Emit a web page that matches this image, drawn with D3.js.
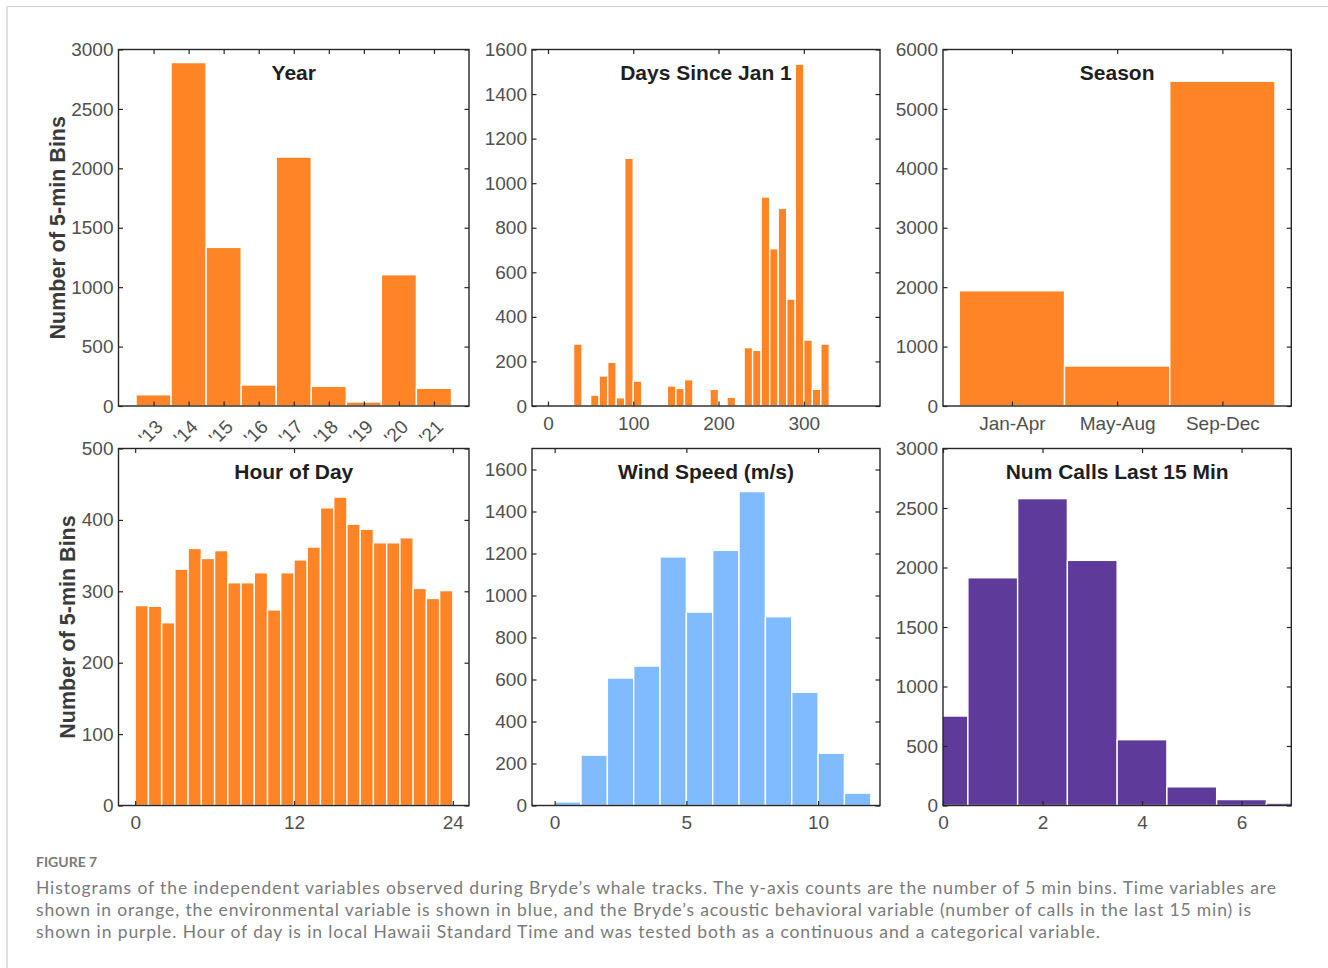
<!DOCTYPE html>
<html>
<head>
<meta charset="utf-8">
<script src="https://cdn.jsdelivr.net/npm/d3@7"></script>
<style>
  html, body { margin: 0; padding: 0; background: #fff; }
  svg { display: block; }
</style>
</head>
<body>
<svg id="fig" width="1328" height="968"></svg>
<script>
// ---- data ----
const yearCenters = [2013, 2014, 2015, 2016, 2017, 2018, 2019, 2020, 2021];
const yearLabels = ["'13", "'14", "'15", "'16", "'17", "'18", "'19", "'20", "'21"];
const yearCounts = [95, 2890, 1335, 177, 2095, 166, 34, 1105, 149];

const dayBinStarts = [30, 50, 60, 70, 80, 90, 100, 140, 150, 160, 190, 210,
                      230, 240, 250, 260, 270, 280, 290, 300, 310, 320];
const dayCounts = [278, 49, 135, 196, 37, 1112, 112, 90, 79, 118, 75, 39,
                   262, 250, 938, 706, 887, 480, 1534, 296, 75, 278];
const dayTicks = [0, 100, 200, 300];

const seasonLabels = ["Jan-Apr", "May-Aug", "Sep-Dec"];
const seasonCounts = [1940, 673, 5467];

const hourCounts = [280, 279, 256, 331, 360, 346, 357, 312, 312, 326, 274, 326,
                    344, 362, 417, 432, 394, 387, 368, 368, 375, 304, 290, 301];
const hourTicks = [0, 12, 24];

const windCounts = [17, 240, 607, 664, 1184, 921, 1215, 1495, 899, 539, 249, 59];
const windTicks = [0, 5, 10];

const callCounts = [752, 1914, 2579, 2060, 553, 157, 50, 20];
const callTicks = [0, 2, 4, 6];

const captionHead = "FIGURE 7";
const captionLines = [
  "Histograms of the independent variables observed during Bryde\u2019s whale tracks. The y-axis counts are the number of 5 min bins. Time variables are",
  "shown in orange, the environmental variable is shown in blue, and the Bryde\u2019s acoustic behavioral variable (number of calls in the last 15 min) is",
  "shown in purple. Hour of day is in local Hawaii Standard Time and was tested both as a continuous and a categorical variable."
];

// ---- styling ----
const ORANGE = "#ff8426", BLUE = "#80bbff", PURPLE = "#5e3a9a";
const FONT = "'Liberation Sans', Arial, Helvetica, sans-serif";
const AXIS = "#262626", TICKTXT = "#505050";
const cols = [[118.5, 469], [532, 880], [943, 1291.3]];
const rows = [[49.5, 406], [448.5, 805.5]];

const svg = d3.select("#fig");
svg.append("rect").attr("width", 1328).attr("height", 968).attr("fill", "#fff");

// page frame
svg.append("line").attr("x1", 7).attr("x2", 1328).attr("y1", 6.5).attr("y2", 6.5)
  .attr("stroke", "#cccccc").attr("stroke-width", 1.2);
svg.append("line").attr("x1", 7).attr("x2", 7).attr("y1", 6.5).attr("y2", 968)
  .attr("stroke", "#cccccc").attr("stroke-width", 1.2);

let clipId = 0;
function panel(cfg) {
  const [x0, x1] = cols[cfg.col];
  const [y0, y1] = rows[cfg.row];
  const x = d3.scaleLinear().domain(cfg.xDomain).range([x0, x1]);
  const y = d3.scaleLinear().domain(cfg.yDomain).range([y1, y0]);
  const g = svg.append("g");

  const cid = "clip" + (clipId++);
  g.append("clipPath").attr("id", cid).append("rect")
    .attr("x", x0).attr("y", y0).attr("width", x1 - x0).attr("height", y1 - y0);

  g.append("g").attr("clip-path", `url(#${cid})`)
    .selectAll("rect").data(cfg.bars).join("rect")
    .attr("x", d => x(d.x0))
    .attr("width", d => x(d.x1) - x(d.x0))
    .attr("y", d => y(d.v))
    .attr("height", d => y(0) - y(d.v))
    .attr("fill", cfg.color)
    .attr("stroke", "#fff").attr("stroke-width", 1.4);

  const tk = 4.5;
  const style = sel => {
    sel.select(".domain").remove();
    sel.selectAll(".tick line").attr("stroke", AXIS).attr("stroke-width", 1.2);
    sel.selectAll(".tick text").attr("fill", TICKTXT)
      .style("font-family", FONT).style("font-size", "19px");
  };

  // left axis with labels
  g.append("g").attr("transform", `translate(${x0},0)`)
    .call(d3.axisLeft(y).tickValues(cfg.yTicks).tickSize(-tk).tickPadding(5).tickFormat(d3.format("d")))
    .call(style);
  // right mirrored ticks
  g.append("g").attr("transform", `translate(${x1},0)`)
    .call(d3.axisRight(y).tickValues(cfg.yTicks).tickSize(-tk).tickFormat(""))
    .call(style);
  // top mirrored ticks
  g.append("g").attr("transform", `translate(0,${y0})`)
    .call(d3.axisTop(x).tickValues(cfg.xTicks).tickSize(-tk).tickFormat(""))
    .call(style);
  // bottom axis
  const bottom = d3.axisBottom(x).tickValues(cfg.xTicks).tickSize(-tk).tickPadding(10.5)
    .tickFormat(cfg.xFormat || d3.format("d"));
  const bg = g.append("g").attr("transform", `translate(0,${y1})`).call(bottom).call(style);
  if (cfg.rotate) {
    bg.selectAll(".tick text")
      .attr("text-anchor", "end").attr("dy", null).attr("y", null)
      .attr("transform", "translate(10,22) rotate(-45)");
  }

  // box
  g.append("rect").attr("x", x0).attr("y", y0).attr("width", x1 - x0).attr("height", y1 - y0)
    .attr("fill", "none").attr("stroke", AXIS).attr("stroke-width", 1.4);

  // title
  g.append("text").attr("x", (x0 + x1) / 2).attr("y", y0 + 30.5)
    .attr("text-anchor", "middle").attr("fill", "#1f1f1f")
    .style("font-family", FONT).style("font-size", "21px").style("font-weight", "bold")
    .text(cfg.title);

  if (cfg.ylabelX) {
    const cy = (y0 + y1) / 2;
    g.append("text").attr("transform", `translate(${cfg.ylabelX},${cy}) rotate(-90)`)
      .attr("text-anchor", "middle").attr("fill", "#3a3a3a")
      .style("font-family", FONT).style("font-size", "21.5px").style("font-weight", "bold")
      .text("Number of 5-min Bins");
  }
}

panel({
  col: 0, row: 0, title: "Year", color: ORANGE, ylabelX: 64.5,
  xDomain: [2012, 2022], yDomain: [0, 3000], yTicks: d3.range(0, 3001, 500),
  xTicks: yearCenters, xFormat: (d, i) => yearLabels[i], rotate: true,
  bars: yearCenters.map((c, i) => ({ x0: c - 0.5, x1: c + 0.5, v: yearCounts[i] }))
});

panel({
  col: 1, row: 0, title: "Days Since Jan 1", color: ORANGE,
  xDomain: [-18.75, 389.4], yDomain: [0, 1600], yTicks: d3.range(0, 1601, 200),
  xTicks: dayTicks,
  bars: dayBinStarts.map((s, i) => ({ x0: s, x1: s + 10, v: dayCounts[i] }))
});

panel({
  col: 2, row: 0, title: "Season", color: ORANGE,
  xDomain: [0.345, 3.655], yDomain: [0, 6000], yTicks: d3.range(0, 6001, 1000),
  xTicks: [1, 2, 3], xFormat: (d, i) => seasonLabels[i],
  bars: seasonCounts.map((v, i) => ({ x0: i + 0.5, x1: i + 1.5, v }))
});

panel({
  col: 0, row: 1, title: "Hour of Day", color: ORANGE, ylabelX: 75,
  xDomain: [-1.26, 25.22], yDomain: [0, 500], yTicks: d3.range(0, 501, 100),
  xTicks: hourTicks,
  bars: hourCounts.map((v, i) => ({ x0: i, x1: i + 1, v }))
});

panel({
  col: 1, row: 1, title: "Wind Speed (m/s)", color: BLUE,
  xDomain: [-0.86, 12.35], yDomain: [0, 1700], yTicks: d3.range(0, 1601, 200),
  xTicks: windTicks,
  bars: windCounts.map((v, i) => ({ x0: i, x1: i + 1, v }))
});

panel({
  col: 2, row: 1, title: "Num Calls Last 15 Min", color: PURPLE,
  xDomain: [0, 7], yDomain: [0, 3000], yTicks: d3.range(0, 3001, 500),
  xTicks: callTicks,
  bars: callCounts.map((v, i) => ({ x0: i - 0.5, x1: i + 0.5, v }))
});

// caption
svg.append("text").attr("x", 36).attr("y", 866.5)
  .attr("fill", "#7a7a7a")
  .style("font-family", "Lato, 'Open Sans', sans-serif").style("font-size", "14px").style("font-weight", "bold")
  .text(captionHead);

const capEnds = [1276, 1251, 1100];
const capBase = [894, 916, 938];
captionLines.forEach((t, i) => {
  svg.append("text").attr("x", 36).attr("y", capBase[i])
    .attr("fill", "#7a7a7a")
    .attr("textLength", capEnds[i] - 36).attr("lengthAdjust", "spacing")
    .style("font-family", "Lato, 'Open Sans', sans-serif").style("font-size", "17.5px")
    .text(t);
});
</script>
</body>
</html>
